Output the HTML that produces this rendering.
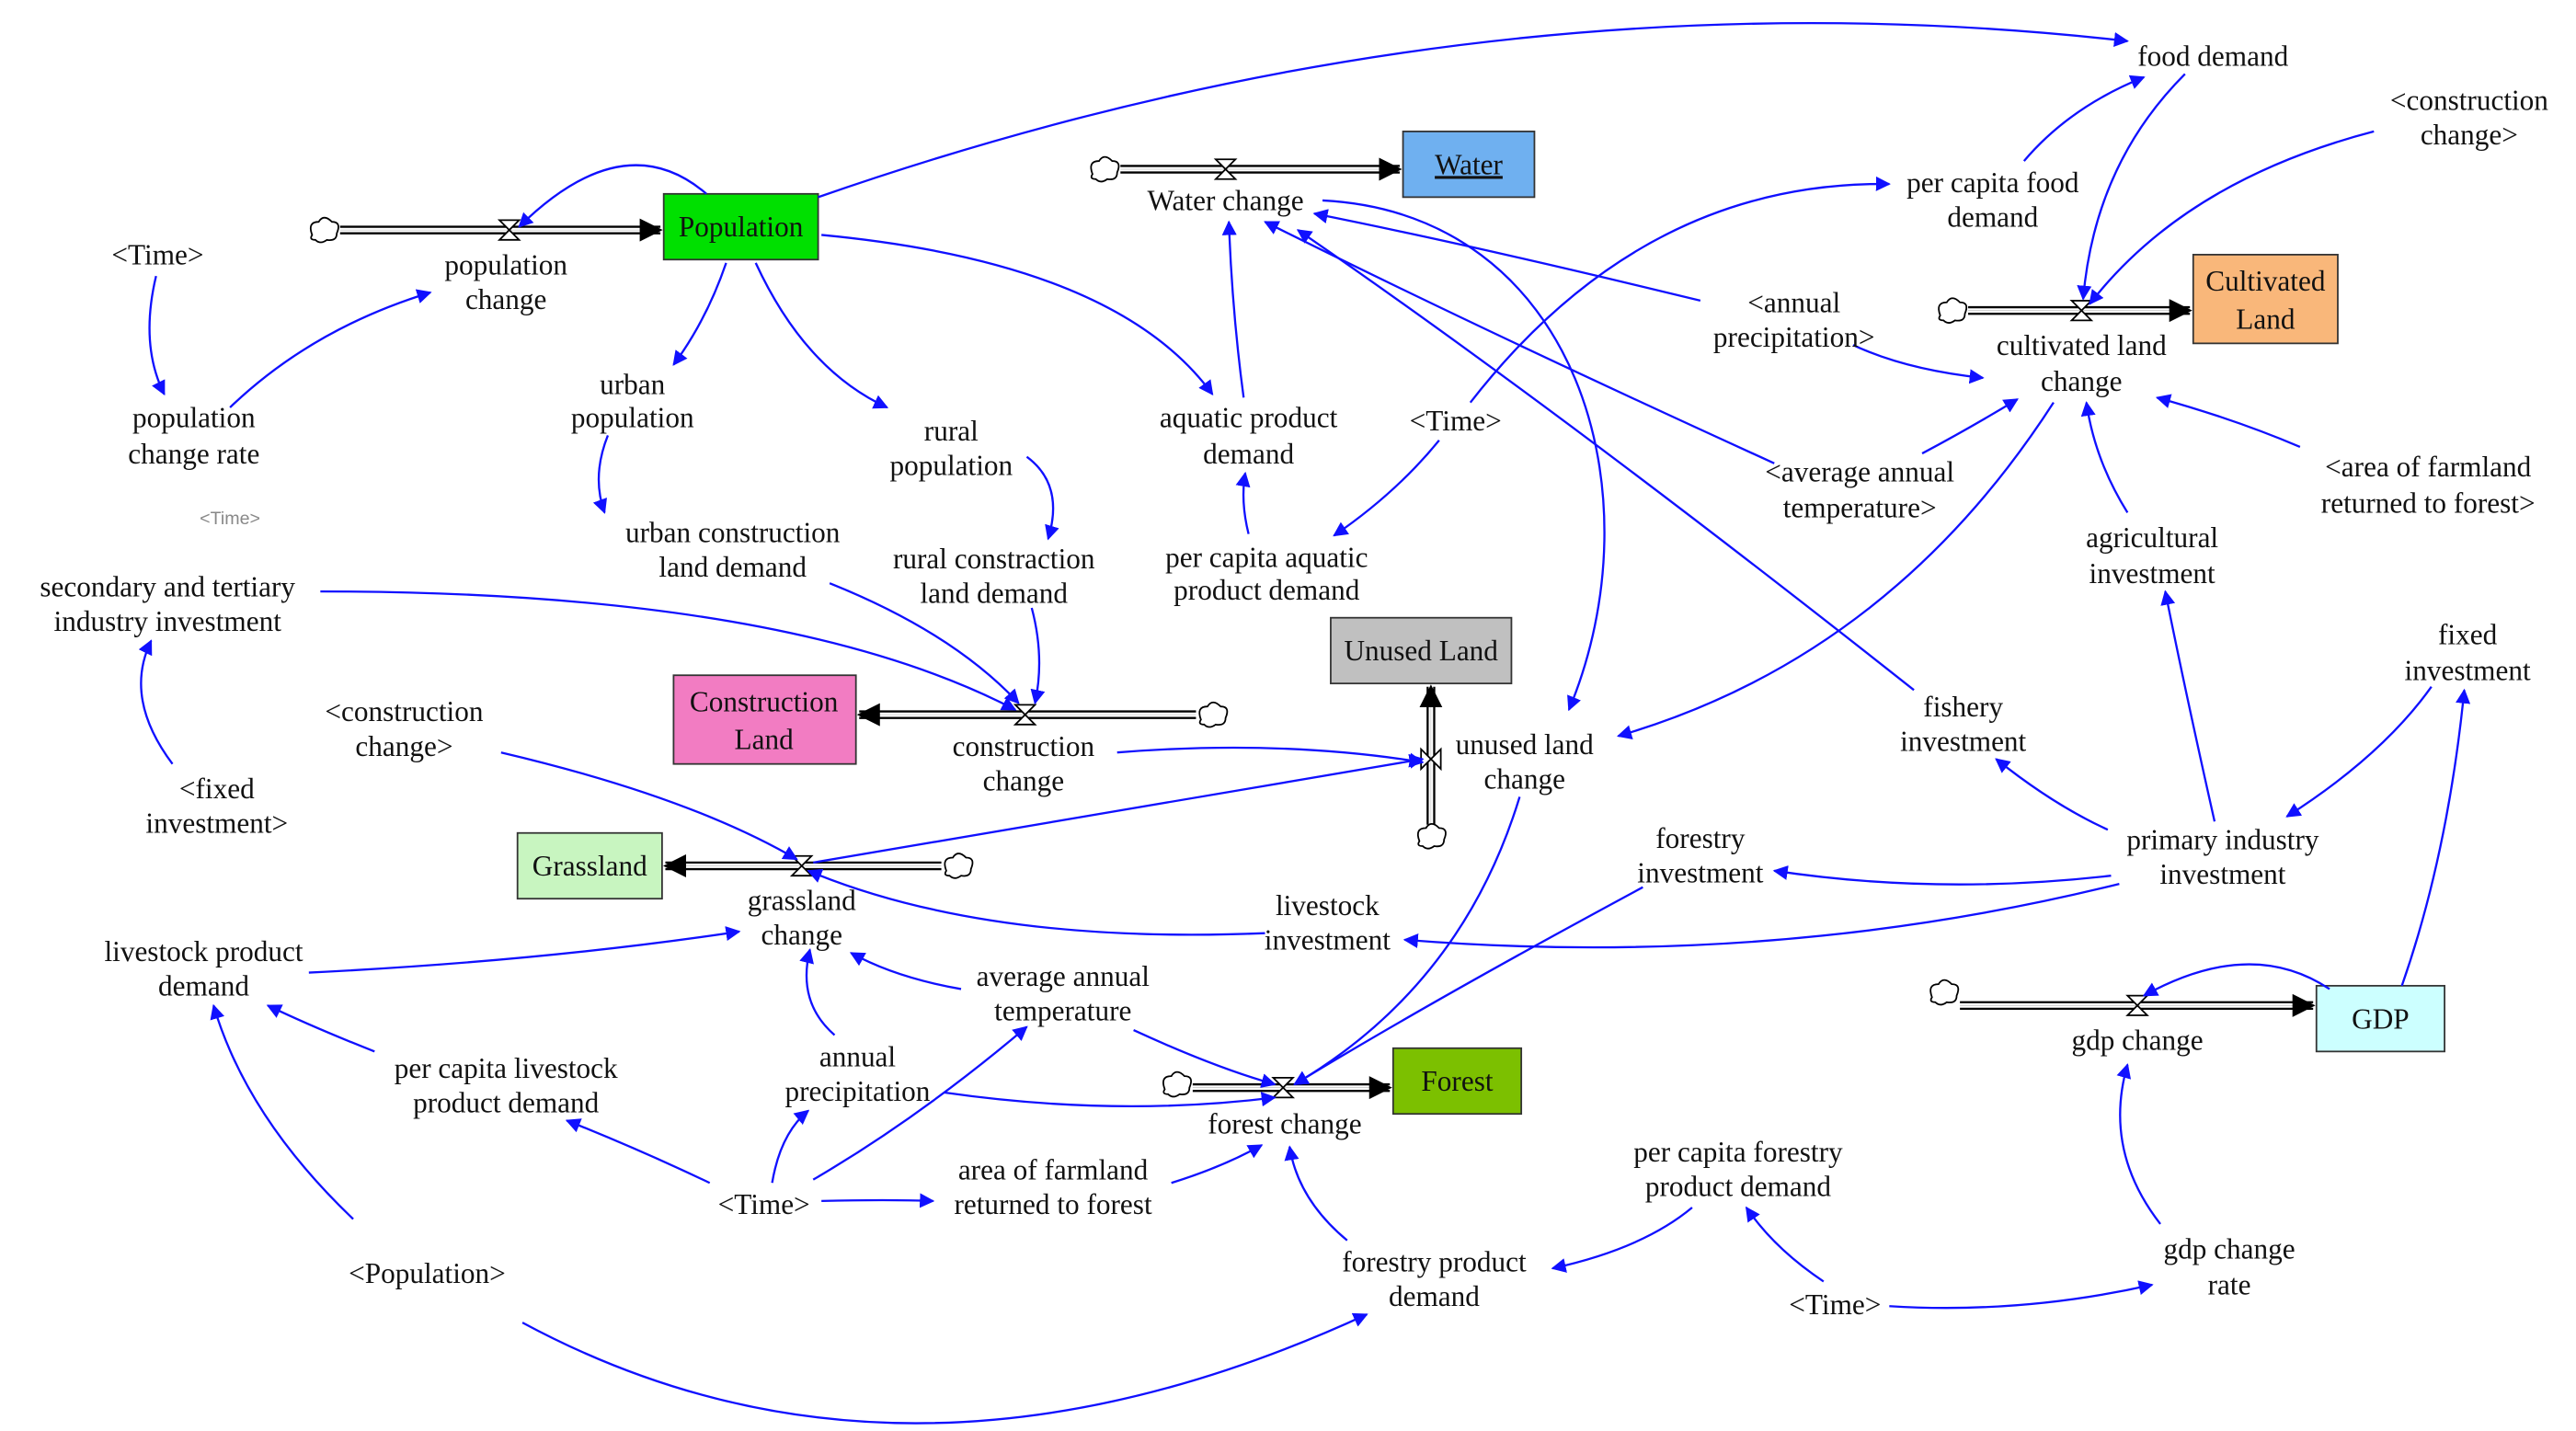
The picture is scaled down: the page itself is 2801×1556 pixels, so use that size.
<!DOCTYPE html>
<html><head><meta charset="utf-8">
<style>
html,body{margin:0;padding:0;background:#fff;}
svg{display:block;}
text{font-family:"Liberation Serif",serif;font-size:17.5px;fill:#111;}
</style></head>
<body>
<svg id="s" width="2801" height="1556" viewBox="0 0 1568 871" preserveAspectRatio="none" xmlns="http://www.w3.org/2000/svg">
<defs>
<marker id="a" viewBox="0 0 10 10" refX="9" refY="5" markerWidth="9" markerHeight="9" markerUnits="userSpaceOnUse" orient="auto"><path d="M0,0 L10,5 L0,10 z" fill="#1010ff"/></marker>
<marker id="b" viewBox="0 0 10 10" refX="9" refY="5" markerWidth="14" markerHeight="14" markerUnits="userSpaceOnUse" orient="auto"><path d="M0,0 L10,5 L0,10 z" fill="#000"/></marker>
</defs>
<g id="boxes">
<rect x="404" y="118" width="94" height="40" fill="#00e000" stroke="#333"/>
<text x="451" y="144" text-anchor="middle">Population</text>
<rect x="854" y="80" width="80" height="40" fill="#6fb0f0" stroke="#333"/>
<text x="894" y="106" text-anchor="middle" text-decoration="underline">Water</text>
<rect x="1335" y="155" width="88" height="54" fill="#f9b77a" stroke="#333"/>
<text x="1379" y="177" text-anchor="middle">Cultivated</text><text x="1379" y="200" text-anchor="middle">Land</text>
<rect x="810" y="376" width="110" height="40" fill="#c0c0c0" stroke="#333"/>
<text x="865" y="402" text-anchor="middle">Unused Land</text>
<rect x="410" y="411" width="111" height="54" fill="#f27cc2" stroke="#333"/>
<text x="465" y="433" text-anchor="middle">Construction</text><text x="465" y="456" text-anchor="middle">Land</text>
<rect x="315" y="507" width="88" height="40" fill="#c8f5c0" stroke="#333"/>
<text x="359" y="533" text-anchor="middle">Grassland</text>
<rect x="848" y="638" width="78" height="40" fill="#7cc000" stroke="#333"/>
<text x="887" y="664" text-anchor="middle">Forest</text>
<rect x="1410" y="600" width="78" height="40" fill="#ccffff" stroke="#333"/>
<text x="1449" y="626" text-anchor="middle">GDP</text>
</g>
</svg>
<script>
var s=document.getElementById('s'),NS='http://www.w3.org/2000/svg';
function el(t,at,txt){var e=document.createElementNS(NS,t);for(var k in at)e.setAttribute(k,at[k]);if(txt)e.textContent=txt;s.appendChild(e);return e;}
// pipes
function pipeH(x1,x2,y){el('line',{x1:x1,y1:y-2,x2:x2,y2:y-2,stroke:'#000','stroke-width':1.3});el('line',{x1:x1,y1:y+2,x2:x2,y2:y+2,stroke:'#000','stroke-width':1.3});el('line',{x1:x1,y1:y,x2:x2,y2:y,stroke:'#000','stroke-width':0.1,'marker-end':'url(#b)'});}
function pipeV(x,y1,y2){el('line',{x1:x-2,y1:y1,x2:x-2,y2:y2,stroke:'#000','stroke-width':1.3});el('line',{x1:x+2,y1:y1,x2:x+2,y2:y2,stroke:'#000','stroke-width':1.3});el('line',{x1:x,y1:y1,x2:x,y2:y2,stroke:'#000','stroke-width':0.1,'marker-end':'url(#b)'});}
function valve(x,y,v){if(v){el('path',{d:'M'+(x-6)+','+(y-6)+' L'+(x+6)+','+(y+6)+' L'+(x+6)+','+(y-6)+' L'+(x-6)+','+(y+6)+' z',fill:'#fff',stroke:'#000'});}else{el('path',{d:'M'+(x-6)+','+(y-6)+' L'+(x+6)+','+(y-6)+' L'+(x-6)+','+(y+6)+' L'+(x+6)+','+(y+6)+' z',fill:'#fff',stroke:'#000'});}}
function cloud(x,y){el('path',{d:'M'+(x-7)+','+(y+3)+' q-3,-8 4,-8 q3,-5 8,0 q6,0 3,7 q0,5 -6,4 q-4,3 -7,0 q-4,0 -2,-3z',fill:'#fff',stroke:'#000'});}
pipeH(207,402,140);valve(310,140);cloud(197,140);
pipeH(682,852,103);valve(746,103);cloud(672,103);
pipeH(1198,1333,189);valve(1267,189);cloud(1188,189);
pipeH(728,523,435);valve(624,435);cloud(738,435);
pipeV(871,502,418);valve(871,462,1);cloud(871,509);
pipeH(573,405,527);valve(488,527);cloud(583,527);
pipeH(726,846,662);valve(781,662);cloud(716,660);
pipeH(1193,1408,612);valve(1301,612);cloud(1183,604);
// arrows
var A=['M498,120 Q900,-20 1295,25','M140,248 Q190,200 262,178','M95,168 Q85,210 100,240','M430,118 Q380,75 316,138','M442,160 Q430,195 410,222','M460,160 Q490,225 540,248','M500,143 Q680,160 738,240','M370,265 Q360,290 368,312','M625,278 Q648,295 638,328','M505,355 Q580,385 620,428','M628,370 Q636,400 630,428','M195,360 Q480,360 618,432','M105,465 Q75,425 92,390','M760,325 Q755,305 758,288','M757,242 Q750,190 748,135','M876,268 Q850,300 812,326','M895,245 Q1000,110 1150,112','M1232,98 Q1260,65 1305,47','M1330,45 Q1275,100 1268,182','M1445,80 Q1330,110 1272,185','M1035,183 Q900,150 800,130','M1128,210 Q1160,225 1207,230','M1080,282 Q900,200 770,135','M1170,276 Q1200,260 1228,243','M1400,272 Q1360,255 1313,242','M1295,312 Q1275,280 1270,245','M1348,500 Q1330,420 1318,360','M1480,418 Q1450,460 1392,497','M1462,600 Q1490,520 1500,420','M1418,602 Q1370,570 1305,606','M1315,745 Q1280,700 1295,648','M1150,795 Q1230,800 1310,782','M1110,780 Q1080,760 1063,735','M1030,735 Q1000,760 945,772','M820,755 Q790,730 785,698','M318,805 Q550,930 832,800','M215,742 Q150,680 130,612','M228,640 Q190,625 163,612','M432,720 Q390,700 345,682','M470,720 Q475,690 492,676','M495,718 Q560,680 625,625','M500,731 Q540,730 568,731','M713,720 Q745,710 768,697','M575,665 Q680,680 776,668','M690,627 Q740,650 776,660','M508,630 Q485,610 493,578','M585,602 Q545,595 518,580','M188,592 Q330,585 450,567','M305,458 Q420,485 485,523','M770,568 Q600,575 492,530','M1290,538 Q1080,590 855,572','M1285,533 Q1180,545 1080,530','M1000,540 Q870,610 788,660','M1283,505 Q1250,490 1215,462','M1165,420 Q950,250 790,140','M1250,245 Q1150,400 985,448','M680,458 Q780,450 866,464','M495,525 Q700,490 866,462','M925,485 Q890,600 788,660','M805,122 C960,130 1010,300 955,432'];
A.forEach(function(d){el('path',{d:d,fill:'none',stroke:'#1010ff','stroke-width':1.3,'marker-end':'url(#a)'});});
// labels
var T=[[1347,40,'food demand'],[1503,67,'<construction'],[1503,88,'change>'],[1213,117,'per capita food'],[1213,138,'demand'],[746,128,'Water change'],[1092,190,'<annual'],[1092,211,'precipitation>'],[1267,216,'cultivated land'],[1267,238,'change'],[886,262,'<Time>'],[1132,293,'<average annual'],[1132,315,'temperature>'],[1478,290,'<area of farmland'],[1478,312,'returned to forest>'],[1310,333,'agricultural'],[1310,355,'investment'],[1502,392,'fixed'],[1502,414,'investment'],[1195,436,'fishery'],[1195,457,'investment'],[1353,517,'primary industry'],[1353,538,'investment'],[1035,516,'forestry'],[1035,537,'investment'],[808,557,'livestock'],[808,578,'investment'],[1301,639,'gdp change'],[1357,766,'gdp change'],[1357,788,'rate'],[1117,800,'<Time>'],[1058,707,'per capita forestry'],[1058,728,'product demand'],[873,774,'forestry product'],[873,795,'demand'],[260,781,'<Population>'],[465,739,'<Time>'],[641,718,'area of farmland'],[641,739,'returned to forest'],[782,690,'forest change'],[522,649,'annual'],[522,670,'precipitation'],[647,600,'average annual'],[647,621,'temperature'],[308,656,'per capita livestock'],[308,677,'product demand'],[124,585,'livestock product'],[124,606,'demand'],[488,554,'grassland'],[488,575,'change'],[246,439,'<construction'],[246,460,'change>'],[132,486,'<fixed'],[132,507,'investment>'],[102,363,'secondary and tertiary'],[102,384,'industry investment'],[118,260,'population'],[118,282,'change rate'],[96,161,'<Time>'],[308,167,'population'],[308,188,'change'],[385,240,'urban'],[385,260,'population'],[579,268,'rural'],[579,289,'population'],[446,330,'urban construction'],[446,351,'land demand'],[605,346,'rural constraction'],[605,367,'land demand'],[760,260,'aquatic product'],[760,282,'demand'],[771,345,'per capita aquatic'],[771,365,'product demand'],[623,460,'construction'],[623,481,'change'],[928,459,'unused land'],[928,480,'change']];
T.forEach(function(t){el('text',{x:t[0],y:t[1],'text-anchor':'middle'},t[2]);});
el('text',{x:140,y:319,'text-anchor':'middle',style:'font-family:Liberation Sans,sans-serif;font-size:11px;fill:#888'},'<Time>');
</script>
</body></html>
